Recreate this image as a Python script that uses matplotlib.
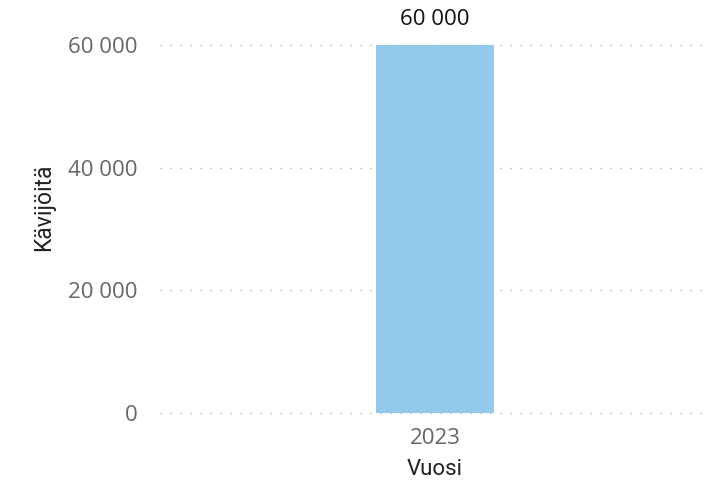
import matplotlib.pyplot as plt

# Data
years = ['2023']
visitors = [60000]

def fmt(v):
    return f'{v:,.0f}'.replace(',', ' ')

fig = plt.figure(figsize=(7.1, 4.86), dpi=100)
ax = fig.add_axes([0.225, 0.150, 0.775, 0.757])

x = list(range(len(years)))
bars = ax.bar(x, visitors, width=0.2145, color='#93C9EA', zorder=2)

ax.set_xlim(-0.5, 0.5)
ax.set_ylim(0, 60000)
ax.set_yticks([0, 20000, 40000, 60000])
ax.set_yticklabels([fmt(v) for v in [0, 20000, 40000, 60000]])
ax.set_xticks(x)
ax.set_xticklabels(years)

ax.grid(axis='y', color='#B4B4B4', linestyle=(0, (1, 6.2)), linewidth=1.0, zorder=1)
for gl in ax.get_ygridlines():
    gl.set_clip_on(False)
for s in ax.spines.values():
    s.set_visible(False)
ax.tick_params(axis='both', length=0, labelsize=16, labelcolor='#666666')
ax.tick_params(axis='y', pad=16)
ax.tick_params(axis='x', pad=11)
for lbl in ax.get_xticklabels() + ax.get_yticklabels():
    lbl.set_fontfamily('Open Sans')

# value labels
for bar in bars:
    h = bar.get_height()
    ax.annotate(fmt(h), xy=(bar.get_x() + bar.get_width() / 2, h),
                xytext=(0, 11), textcoords='offset points',
                ha='center', va='bottom', fontsize=16, color='#111111',
                family='Open Sans', annotation_clip=False)

ax.set_xlabel('Vuosi', fontsize=16, family='Roboto', color='#222222', labelpad=7)
ax.set_ylabel('Kävijöitä', fontsize=16.5, family='Roboto', color='#222222')
ax.yaxis.label.set_va('center')
ax.yaxis.set_label_coords(-0.211, 0.56)

fig.savefig('out.png', dpi=100)
